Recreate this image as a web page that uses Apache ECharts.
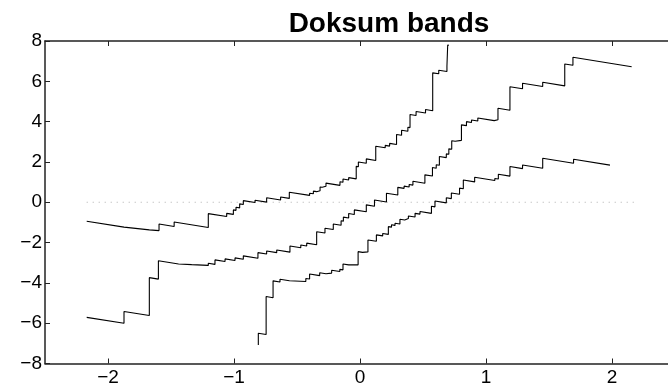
<!DOCTYPE html>
<html>
<head>
<meta charset="utf-8">
<script src="https://cdn.jsdelivr.net/npm/echarts@6/dist/echarts.min.js"></script>
<style>
html,body{margin:0;padding:0;background:#fff;}
#chart{width:668px;height:388px;}
</style>
</head>
<body>
<div id="chart"></div>
<script>
// ---- data ----
// Each band: x positions where a step starts, and the level just after that step.
// Between steps the Doksum shift function falls with slope -1.
var upperJumpX = [-2.169, -1.873, -1.672, -1.595, -1.475, -1.204, -1.058, -1.005, -0.984, -0.955, -0.926, -0.833, -0.741, -0.630, -0.561, -0.400, -0.370, -0.345, -0.317, -0.300, -0.270, -0.159, -0.135, -0.090, -0.030, -0.013, 0.050, 0.125, 0.200, 0.235, 0.290, 0.330, 0.380, 0.397, 0.445, 0.520, 0.577, 0.625, 0.690, 0.696];
var upperLevel = [-0.94, -1.17, -1.33, -1.08, -0.98, -0.565, -0.55, -0.38, -0.25, -0.08, 0.08, 0.10, 0.22, 0.26, 0.50, 0.45, 0.55, 0.60, 0.76, 0.82, 0.95, 1.02, 1.15, 1.22, 1.78, 2.00, 2.15, 2.78, 2.82, 2.92, 3.36, 3.57, 3.72, 4.35, 4.50, 4.60, 6.42, 6.55, 6.75, 7.80];
var upperEndX = 0.706;

var middleJumpX = [-2.169, -1.873, -1.672, -1.600, -1.440, -1.336, -1.204, -1.151, -1.071, -0.992, -0.926, -0.810, -0.741, -0.661, -0.556, -0.470, -0.423, -0.344, -0.278, -0.212, -0.150, -0.132, -0.090, -0.045, 0.050, 0.115, 0.210, 0.300, 0.350, 0.390, 0.420, 0.515, 0.575, 0.605, 0.630, 0.685, 0.705, 0.728, 0.755, 0.805, 0.845, 0.885, 0.935, 1.065, 1.095, 1.190, 1.290, 1.450, 1.625, 1.690];
var middleLevel = [-5.71, -5.42, -3.74, -2.90, -2.99, -3.00, -3.03, -2.86, -2.81, -2.76, -2.66, -2.50, -2.42, -2.37, -2.17, -2.12, -2.03, -1.46, -1.29, -1.08, -0.92, -0.74, -0.56, -0.38, -0.13, 0.11, 0.45, 0.74, 0.80, 0.88, 1.04, 1.36, 1.72, 1.86, 2.27, 2.40, 2.65, 3.05, 3.12, 3.84, 4.00, 4.08, 4.18, 4.12, 4.66, 5.73, 5.90, 5.95, 6.86, 7.19];
var middleEndX = 2.156;

var lowerJumpX = [-0.807, -0.807, -0.745, -0.690, -0.635, -0.560, -0.430, -0.400, -0.320, -0.270, -0.225, -0.160, -0.135, -0.090, -0.015, 0.020, 0.063, 0.130, 0.180, 0.225, 0.250, 0.278, 0.317, 0.355, 0.384, 0.437, 0.476, 0.567, 0.595, 0.685, 0.725, 0.790, 0.820, 0.910, 1.070, 1.098, 1.190, 1.290, 1.450, 1.695];
var lowerLevel = [-7.08, -6.50, -4.68, -3.90, -3.82, -3.80, -3.78, -3.56, -3.50, -3.47, -3.37, -3.33, -3.06, -3.03, -2.45, -2.42, -1.87, -1.62, -1.55, -1.21, -1.12, -1.04, -0.84, -0.78, -0.68, -0.55, -0.46, -0.20, 0.06, 0.22, 0.46, 0.70, 1.10, 1.24, 1.18, 1.39, 1.77, 1.85, 2.18, 2.13];
var lowerEndX = 1.984;

var zeroLineX = [-2.169, 2.196];
var xTickValues = [-2, -1, 0, 1, 2];
var segmentSlope = -1;

// ---- build polylines ----
function bandPoints(jx, lv, endX) {
  var pts = [[jx[0], lv[0]]];
  for (var i = 1; i < jx.length; i++) {
    pts.push([jx[i], lv[i - 1] + segmentSlope * (jx[i] - jx[i - 1])]);
    pts.push([jx[i], lv[i]]);
  }
  var last = jx.length - 1;
  pts.push([endX, lv[last] + segmentSlope * (endX - jx[last])]);
  return pts;
}
function fmt(v) {
  return v < 0 ? '\u2212' + Math.abs(v) : String(v);
}

var FONT = 'Liberation Sans, Arial, Helvetica, sans-serif';
var chart = echarts.init(document.getElementById('chart'), null, {renderer: 'canvas'});

function lineSeries(data) {
  return {
    type: 'line', data: data, showSymbol: false, symbol: 'none',
    lineStyle: {color: '#000', width: 1.1}, animation: false, silent: true, clip: true
  };
}

var axisCommon = {
  type: 'value',
  axisLine: {show: true, onZero: false, lineStyle: {color: '#222', width: 1.5}},
  splitLine: {show: false}
};
var tickStyle = {color: '#222', width: 1};

chart.setOption({
  backgroundColor: '#fff',
  animation: false,
  title: {
    text: 'Doksum bands',
    left: 384, top: 5, textAlign: 'center',
    textStyle: {fontSize: 28, fontWeight: 'bold', fontFamily: FONT, color: '#000'}
  },
  grid: {left: 45, right: -7, top: 41, bottom: 24.5, containLabel: false, outerBoundsMode: 'none'},
  xAxis: [
    Object.assign({}, axisCommon, {
      min: -2.5, max: 2.5, position: 'bottom',
      axisTick: {show: true, inside: true, length: 5, customValues: xTickValues, lineStyle: tickStyle},
      axisLabel: {show: true, customValues: xTickValues, formatter: fmt, color: '#000', fontSize: 19, fontFamily: FONT, margin: 5}
    }),
    Object.assign({}, axisCommon, {
      min: -2.5, max: 2.5, position: 'top',
      axisTick: {show: true, inside: true, length: 5, customValues: xTickValues, lineStyle: tickStyle},
      axisLabel: {show: false}
    })
  ],
  yAxis: [
    Object.assign({}, axisCommon, {
      min: -8, max: 8, interval: 2, position: 'left',
      axisTick: {show: true, inside: true, length: 5, lineStyle: tickStyle},
      axisLabel: {show: true, formatter: fmt, color: '#000', fontSize: 19, fontFamily: FONT, margin: 3}
    })
  ],
  series: [
    {
      type: 'line', data: [[zeroLineX[0], 0], [zeroLineX[1], 0]], showSymbol: false, symbol: 'none',
      lineStyle: {color: '#b0b0b0', width: 1, type: [1, 5]}, animation: false, silent: true
    },
    lineSeries(bandPoints(upperJumpX, upperLevel, upperEndX)),
    lineSeries(bandPoints(middleJumpX, middleLevel, middleEndX)),
    lineSeries(bandPoints(lowerJumpX, lowerLevel, lowerEndX))
  ]
});
</script>
</body>
</html>
